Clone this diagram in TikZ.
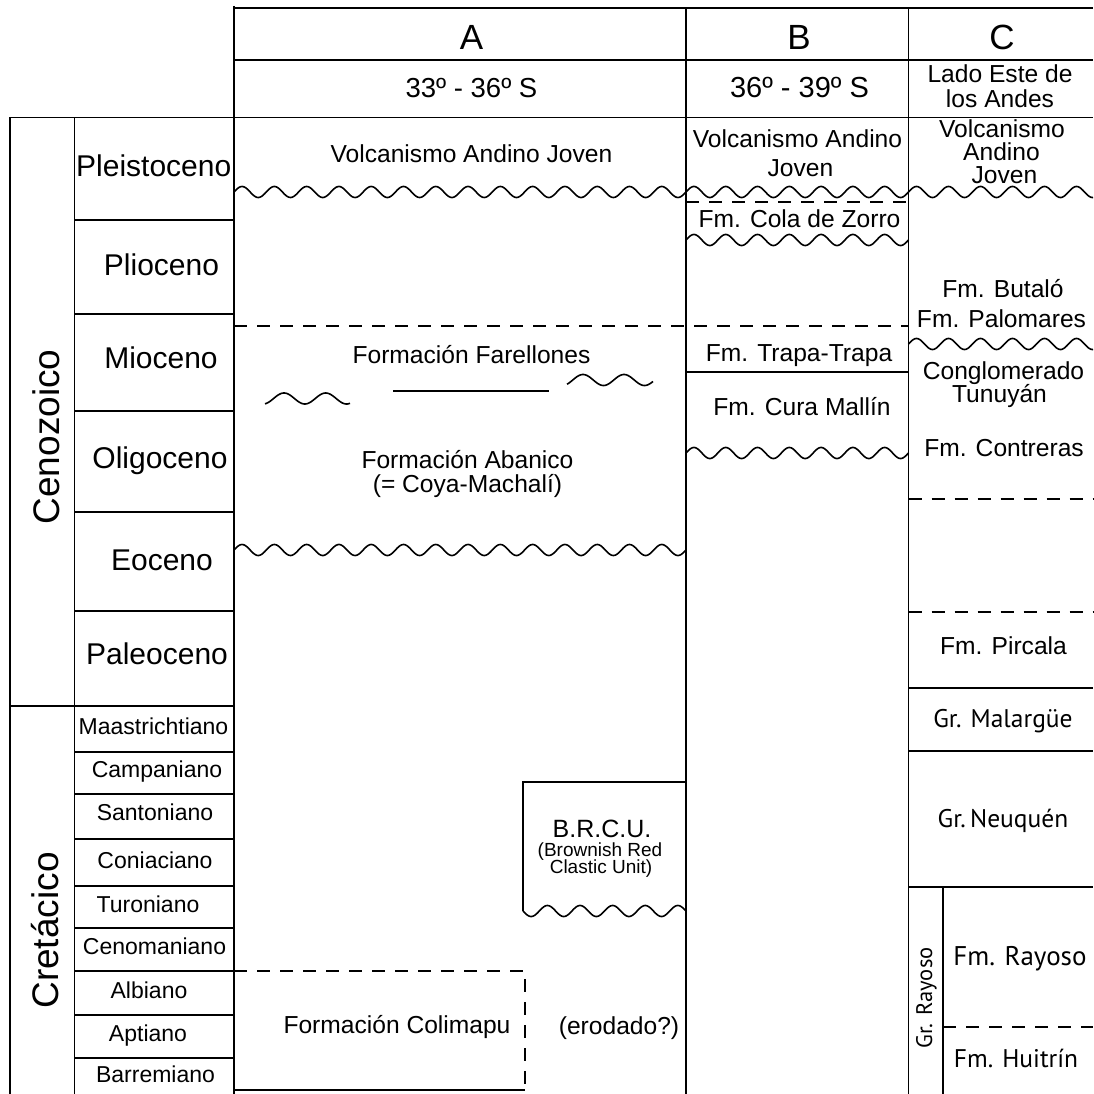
\documentclass[tikz,border=0pt]{standalone}
\usepackage{fontspec}
\setmainfont{Liberation Sans}
\newfontfamily\myr{PT Sans}
\newcommand{\wavy}[4]{\draw[wv] plot[domain=#1:#2, samples=400] (\x, {#3 - 5.5*sin(((\x-#1)/#4)*360)});}
\begin{document}
\begin{tikzpicture}[x=1pt,y=-1pt,
  ln/.style={line width=1.8pt},
  dsh/.style={line width=1.8pt, dash pattern=on 13pt off 10pt},
  wv/.style={line width=1.6pt, line join=round},
  base/.style={inner sep=0pt, anchor=base},
  txt/.style={base, font=\fontsize{24.6}{25}\selectfont},
  myr/.style={base, font=\myr\fontsize{25.5}{26}\selectfont},
  hd/.style={base, font=\fontsize{35}{36}\selectfont},
  lat/.style={base, font=\fontsize{27.5}{28}\selectfont},
  epo/.style={base, font=\fontsize{30}{31}\selectfont},
  stg/.style={base, font=\fontsize{23}{24}\selectfont},
  era/.style={base, rotate=90, font=\fontsize{37}{38}\selectfont},
  small/.style={base, font=\fontsize{19}{20}\selectfont}]
\useasboundingbox[fill=white] (0,0) rectangle (1093,1094);

% ---------- grid ----------
\draw[ln] (234,8) -- (1093,8);
\draw[ln] (234,60) -- (1093,60);
\draw[ln] (10,117.5) -- (1093,117.5);
\draw[ln] (10,117.5) -- (10,1094);
\draw[ln] (74.5,117.5) -- (74.5,1094);
\draw[ln] (234,6) -- (234,1094);
\draw[ln] (686,8) -- (686,1094);
\draw[ln] (908.5,8) -- (908.5,1094);
\foreach \yy in {220,314,411,512,611,752,794,839,886,928,971,1015,1058}
  \draw[ln] (74.5,\yy) -- (234,\yy);
\draw[ln] (10,706) -- (234,706);

% ---------- header ----------
\node[hd] (hA) at (471.5,50) {A};
\node[hd] (hB) at (799,50) {B};
\node[hd] (hC) at (1002,50) {C};
\node[lat] (latA) at (471.5,98) {33º - 36º S};
\node[lat, font=\fontsize{29}{30}\selectfont] (latB) at (799.5,98) {36º - 39º S};
\node[txt] (ladoA) at (1000,83) {Lado Este de};
\node[txt] (ladoB) at (1000,108) {los Andes};

% ---------- era / epochs / stages ----------
\node[era] (ceno) at (59,437) {Cenozoico};
\node[era] (cret) at (58,930.5) {Cretácico};
\node[epo, anchor=base west] (plei) at (76,177) {Pleistoceno};
\node[epo] (plio) at (161.5,275) {Plioceno};
\node[epo] (mio) at (161,368) {Mioceno};
\node[epo] (oli) at (160,468) {Oligoceno};
\node[epo] (eo) at (162,570) {Eoceno};
\node[epo] (paleo) at (157,664) {Paleoceno};
\node[stg] (maas) at (153.5,734) {Maastrichtiano};
\node[stg] (camp) at (157,777) {Campaniano};
\node[stg] (sant) at (155,820) {Santoniano};
\node[stg] (coni) at (155,868) {Coniaciano};
\node[stg] (turo) at (148,912) {Turoniano};
\node[stg] (ceno2) at (154.5,954) {Cenomaniano};
\node[stg] (albi) at (149,998) {Albiano};
\node[stg] (apti) at (148,1041) {Aptiano};
\node[stg] (barr) at (155.5,1082) {Barremiano};

% ---------- column A ----------
\node[txt] (volcA) at (471.5,163) {Volcanismo Andino Joven};
\wavy{234}{686}{192}{32.2857}
\draw[dsh] (234,326) -- (908.5,326);
\node[txt] (farel) at (471.5,363) {Formación Farellones};
\draw[wv] plot[domain=265:350, samples=100] (\x, {398.5 - 5.5*cos(((\x-284)/41.7)*360)});
\draw[ln] (393,391) -- (549,391);
\draw[wv] plot[domain=567:653, samples=100] (\x, {380 - 5.5*cos(((\x-583)/41)*360)});
\node[txt] (aban1) at (467.5,468) {Formación Abanico};
\node[txt] (aban2) at (467.5,492) {(= Coya-Machalí)};
\wavy{234}{686}{550}{32.2857}
% B.R.C.U.
\draw[ln] (523,911) -- (523,782) -- (686,782);
\draw[wv] plot[domain=523:686, samples=200] (\x, {911 + 5.5*sin(((\x-523)/32.6)*360)});
\node[txt, font=\fontsize{25}{26}\selectfont] (brcu1) at (602,837) {B.R.C.U.};
\node[small] (brcu2) at (600,856) {(Brownish Red};
\node[small] (brcu3) at (601,873) {Clastic Unit)};
% Colimapu
\draw[dsh] (234,971) -- (525,971) -- (525,1089);
\draw[ln] (234,1090) -- (525,1090);
\node[txt] (colim) at (397,1033) {Formación Colimapu};
\node[txt] (erod) at (619,1034) {(erodado?)};

% ---------- column B ----------
\node[txt] (volcB1) at (797.5,148) {Volcanismo Andino};
\node[txt] (volcB2) at (800.5,177) {Joven};
\wavy{686}{908.5}{192}{31.7857}
\draw[dsh] (686,202) -- (910,202);
\node[txt] (cola) at (799.5,227) {Fm. Cola de Zorro};
\wavy{686}{908.5}{240}{31.7857}
\node[txt] (trapa) at (799,361) {Fm. Trapa-Trapa};
\draw[ln] (686,372) -- (908.5,372);
\node[txt] (cura) at (802,415) {Fm. Cura Mallín};
\wavy{686}{908.5}{453}{31.7857}

% ---------- column C ----------
\node[txt] (volcC1) at (1002,137.5) {Volcanismo};
\node[txt] (volcC2) at (1001.5,161) {Andino};
\node[txt] (volcC3) at (1004.5,183.5) {Joven};
\wavy{908.5}{1093}{192}{32}
\node[txt] (buta) at (1003,297) {Fm. Butaló};
\node[txt] (palo) at (1001.5,327) {Fm. Palomares};
\wavy{908.5}{1093}{344}{32}
\node[txt] (cong1) at (1003.5,379.5) {Conglomerado};
\node[txt] (cong2) at (999.5,402.5) {Tunuyán};
\node[txt] (contr) at (1004,456) {Fm. Contreras};
\draw[dsh] (908.5,499) -- (1093,499);
\draw[dsh] (908.5,612) -- (1093,612);
\node[txt] (pirc) at (1003.5,654) {Fm. Pircala};
\draw[ln] (908.5,688) -- (1093,688);
\node[myr] (mala) at (1003,727) {Gr. Malargüe};
\draw[ln] (908.5,751) -- (1093,751);
\node[myr] (neuq) at (1003,827) {Gr.\,Neuquén};
\draw[ln] (908.5,887) -- (1093,887);
\draw[ln] (943,887) -- (943,1094);
\node[myr, rotate=90, font=\myr\fontsize{22.5}{23}\selectfont] (rayG) at (932,998) {Gr. Rayoso};
\node[myr, font=\myr\fontsize{27}{28}\selectfont] (rayF) at (1020,965) {Fm. Rayoso};
\draw[dsh] (943,1027) -- (1093,1027);
\node[myr] (huit) at (1016,1067) {Fm. Huitrín};
\end{tikzpicture}
\end{document}
